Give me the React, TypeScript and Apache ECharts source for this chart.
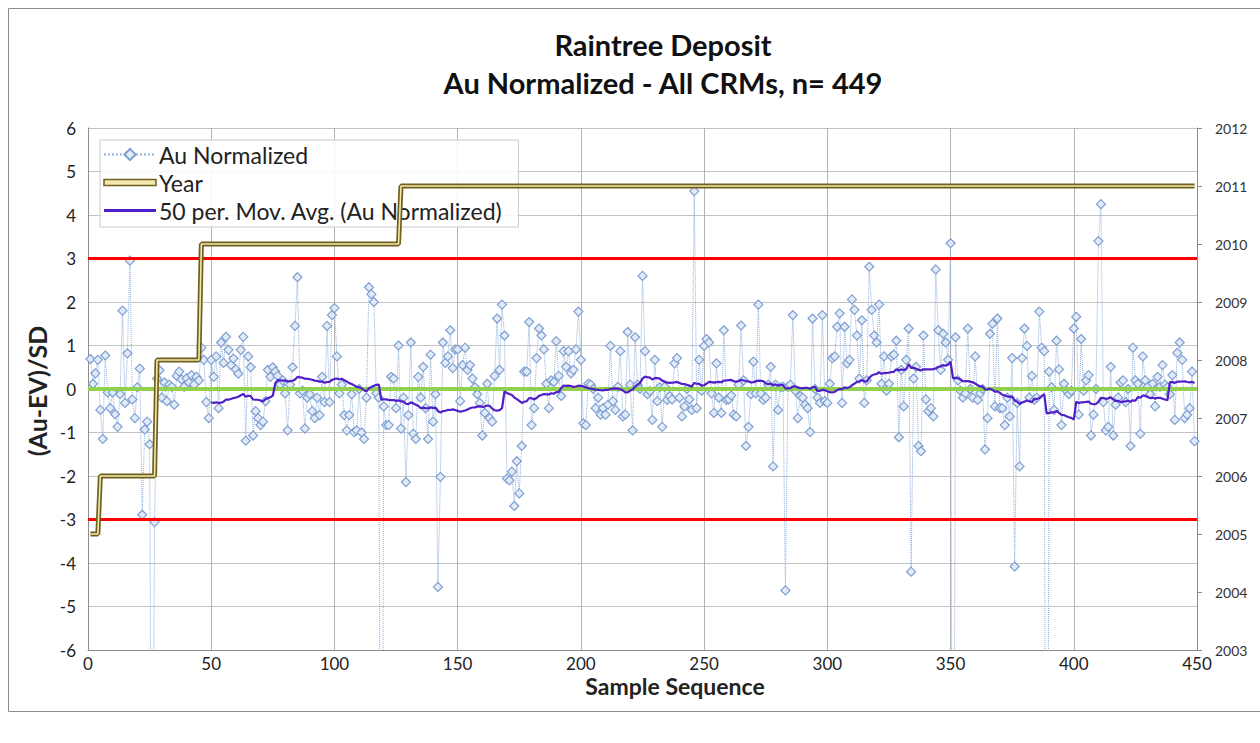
import { useEffect, useRef } from "react";
import * as echarts from "echarts";

// Au Normalized value for each sample, in sequence (samples 1..449)
const auNormalized: number[] = [
  // 1-10
  0.69, 0.12, 0.36, 0.67, -0.48, -1.15, 0.77, -0.08, -0.44, -0.08,
  // 11-20
  -0.58, -0.87, -0.12, 1.8, -0.32, 0.82, 2.95, -0.24, -0.67, 0.04,
  // 21-30
  0.47, -2.89, -0.93, -0.75, -1.27, -14, -3.06, 0.24, 0.43, -0.2,
  // 31-40
  0.15, -0.28, 0.1, 0.05, -0.36, 0.3, 0.4, 0.22, 0.05, 0.25,
  // 41-50
  0.15, 0.32, 0.1, 0.28, 0.2, 0.95, 0.67, -0.3, -0.67, 0.67,
  // 51-60
  0.28, 0.75, -0.44, 1.07, 0.6, 1.2, 0.9, 0.55, 0.7, 0.45,
  // 61-70
  0.35, 0.9, 1.2, -1.19, 0.75, 0.5, -1.07, -0.51, -0.67, -0.83,
  // 71-80
  -0.75, -0.28, 0.44, 0.28, 0.5, 0.4, 0.3, 0.1, 0.2, -0.1,
  // 81-90
  -0.95, 0.1, 0.5, 1.45, 2.57, -0.1, -0.04, -0.91, -0.2, -0.12,
  // 91-100
  -0.51, -0.67, -0.2, -0.6, 0.28, -0.3, 1.45, -0.3, 1.7, 1.86,
  // 101-110
  0.75, -0.1, 0.1, -0.6, -0.95, -0.6, -0.12, -0.99, -0.95, 0.0,
  // 111-120
  -1.0, -1.15, -0.2, 2.34, 2.18, 2.0, -0.1, -0.2, -18, -0.4,
  // 121-130
  -0.83, -0.83, 0.28, 0.24, -0.44, 1.0, -0.91, -0.2, -2.14, -0.6,
  // 131-140
  1.07, -1.03, -1.15, 0.28, -0.2, 0.51, -0.44, -1.15, 0.79, -0.75,
  // 141-150
  -0.12, -4.55, -2.02, 1.07, 0.6, 0.75, 1.35, 0.48, 0.91, 0.91,
  // 151-160
  -0.28, 0.55, 0.95, 0.44, 0.55, 0.24, 0.04, -0.12, -0.32, -1.07,
  // 161-170
  -0.55, 0.12, -0.67, -0.75, 0.3, 1.62, 0.44, 1.94, 1.23, -2.06,
  // 171-180
  -2.1, -1.9, -2.69, -1.66, -2.4, -1.31, 0.4, 0.4, 1.54, -0.83,
  // 181-190
  -0.44, 0.71, 1.39, 1.23, 0.91, 0.12, -0.44, 0.2, 0.16, 1.1,
  // 191-200
  0.3, -0.16, 0.87, 0.51, 0.87, 0.36, 0.44, 0.91, 1.78, 0.67,
  // 201-210
  -0.79, -0.83, 0.12, 0.1, 0.0, -0.44, -0.2, -0.59, -0.44, -0.59,
  // 211-220
  -0.36, 0.99, -0.28, -0.48, 0.05, 0.87, -0.63, -0.59, 1.31, 0.1,
  // 221-230
  -0.95, 1.19, 0.1, 0.0, 2.6, 0.87, -0.12, -0.05, -0.71, 0.67,
  // 231-240
  -0.28, 0.04, -0.87, 0.05, -0.25, -0.16, -0.24, 0.59, 0.71, -0.2,
  // 241-250
  -0.63, -0.4, 0.0, -0.24, -0.48, 4.55, -0.44, 0.67, -0.04, 0.99,
  // 251-260
  1.15, 1.07, -0.1, -0.55, 0.59, -0.2, -0.55, 1.35, -0.25, -0.24,
  // 261-270
  -0.15, -0.59, -0.63, 0.1, 1.46, 0.2, -1.31, -0.87, -0.12, 0.63,
  // 271-280
  -0.1, 1.94, -0.1, -0.25, -0.2, 0.1, 0.51, -1.78, 0.1, -0.48,
  // 281-290
  0.04, 0.05, -4.63, 0.05, 0.1, 1.7, -0.04, -0.67, -0.16, -0.2,
  // 291-300
  -0.36, -0.44, -0.99, 1.62, 0.0, -0.2, -0.32, 1.7, -0.28, -0.32,
  // 301-310
  0.12, 0.71, 0.75, 1.43, 1.74, -0.32, 1.43, 0.59, 0.67, 2.06,
  // 311-320
  1.82, 1.23, 0.24, 1.58, -0.32, 0.2, 2.81, 1.82, 1.23, 1.07,
  // 321-330
  1.94, 0.12, 0.75, -0.04, 0.12, 0.75, 0.79, 1.11, -1.11, 0.44,
  // 331-340
  -0.4, 0.67, 1.39, -4.2, 0.24, 0.51, -1.31, -1.43, 1.23, -0.24,
  // 341-350
  -0.51, -0.44, -0.63, 2.75, 1.35, 0.44, 1.27, 1.07, 0.67, 3.35,
  // 351-360
  -19, 1.19, 0.2, -0.04, -0.2, -0.1, 1.39, 0.0, -0.2, 0.75,
  // 361-370
  -0.25, -0.1, 0.0, -1.39, -0.67, 1.27, 1.5, -0.4, 1.62, -0.44,
  // 371-380
  -0.44, -0.83, -0.2, -0.63, 0.71, -4.08, -0.32, -1.78, 0.71, 1.39,
  // 381-390
  0.99, -0.2, 0.3, -0.25, -0.2, 1.78, 0.95, 0.87, -21, 0.4,
  // 391-400
  0.04, -0.48, 1.11, 0.45, -0.83, 0.12, -0.04, -0.12, -0.04, 1.39,
  // 401-410
  1.66, -0.59, 1.15, -0.04, 0.2, 0.32, -1.07, -0.59, 0.0, 3.4,
  // 411-420
  4.25, -0.3, -0.95, -0.87, 0.51, -1.07, -0.36, -0.2, 0.15, 0.2,
  // 421-430
  -0.3, 0.0, -1.31, 0.95, 0.2, 0.12, -1.03, 0.75, 0.2, 0.05,
  // 431-440
  -0.12, 0.12, -0.4, 0.28, 0.05, 0.55, 0.1, 0.04, -0.12, 0.32,
  // 441-449
  -0.71, 0.83, 1.07, 0.67, -0.67, -0.59, -0.44, 0.4, -1.2,
];

// Year of assay: the year value and the first sample it applies to
const yearValues: number[] = [2005, 2006, 2008, 2010, 2011];
const yearStartSample: number[] = [1, 5, 28, 46, 127];

// Reference lines (in SD units)
const controlLimits: number[] = [3, -3];
const centreLine: number[] = [0];

const movingAveragePeriod = 50;

const titleLines: string[] = ["Raintree Deposit", "Au Normalized - All CRMs, n= 449"];
const xAxisTitle = "Sample Sequence";
const yAxisTitle = "(Au-EV)/SD";

const FONT = "Lato, 'Open Sans', 'DejaVu Sans', sans-serif";

const LINE_ICON = "path://M0,0 H52 V3 H0 Z";
const YEAR_ICON = "path://M0,0 H52 V6 H0 Z";

export default function App() {
  const ref = useRef<HTMLDivElement>(null);

  useEffect(() => {
    if (!ref.current) return;
    const chart = echarts.init(ref.current, undefined, { renderer: "svg" });

    const n = auNormalized.length;
    const auData = auNormalized.map((v, i) => [i + 1, v]);
    const yearData = auNormalized.map((_, i) => {
      let y = yearValues[0];
      for (let k = 0; k < yearValues.length; k++) {
        if (i + 1 >= yearStartSample[k]) y = yearValues[k];
      }
      return [i + 1, y];
    });
    const maData: number[][] = [];
    for (let i = movingAveragePeriod; i <= n; i++) {
      let s = 0;
      for (let j = i - movingAveragePeriod; j < i; j++) s += auNormalized[j];
      maData.push([i, s / movingAveragePeriod]);
    }

    chart.setOption({
      animation: false,
      backgroundColor: "#ffffff",
      title: {
        text: titleLines.join("\n"),
        left: 658,
        top: 20,
        textAlign: "center",
        textStyle: {
          fontFamily: FONT,
          fontSize: 29,
          fontWeight: "bold",
          color: "#111",
          lineHeight: 38,
        },
      },
      graphic: [
        {
          type: "rect",
          shape: { x: 8.5, y: 8.5, width: 1300, height: 703 },
          style: { fill: "none", stroke: "#8c8c8c", lineWidth: 1 },
          silent: true,
          z: -1,
        },
        {
          type: "text",
          x: 675,
          y: 686,
          style: {
            text: xAxisTitle,
            fontFamily: FONT,
            fontSize: 23,
            fontWeight: "bold",
            fill: "#222",
            align: "center",
            verticalAlign: "middle",
          },
        },
        {
          type: "text",
          x: 37,
          y: 391,
          rotation: Math.PI / 2,
          style: {
            text: yAxisTitle,
            fontFamily: FONT,
            fontSize: 25,
            fontWeight: "bold",
            fill: "#222",
            align: "center",
            verticalAlign: "middle",
          },
        },
      ],
      legend: {
        data: [
          { name: "Au Normalized" },
          {
            name: "Year",
            icon: YEAR_ICON,
            itemStyle: { color: "#f3e9b0", borderColor: "#6e5f1c", borderWidth: 1.5 },
          },
          { name: "50 per. Mov. Avg. (Au Normalized)", icon: LINE_ICON },
        ],
        orient: "vertical",
        left: 100,
        top: 140,
        itemWidth: 52,
        itemHeight: 14,
        itemGap: 5,
        padding: [3, 16, 5, 3],
        backgroundColor: "rgba(255,255,255,0.85)",
        borderColor: "#c9c9c9",
        borderWidth: 1,
        textStyle: { fontFamily: FONT, fontSize: 23, color: "#222", padding: [0, 0, 0, -2] },
      },
      grid: { left: 88, top: 128, width: 1109, height: 522, containLabel: false },
      xAxis: {
        type: "value",
        min: 0,
        max: 450,
        interval: 50,
        axisLine: { show: true, onZero: false, lineStyle: { color: "#8c8c8c" } },
        axisTick: { show: false },
        axisLabel: { fontFamily: FONT, fontSize: 17, color: "#222", margin: 5 },
        splitLine: { show: true, lineStyle: { color: "#b5b5b5", width: 1 } },
      },
      yAxis: [
        {
          type: "value",
          min: -6,
          max: 6,
          interval: 1,
          axisLine: { show: true, lineStyle: { color: "#8c8c8c" } },
          axisTick: { show: false },
          axisLabel: { fontFamily: FONT, fontSize: 17, color: "#222", margin: 12 },
          splitLine: { show: true, lineStyle: { color: "#c4c4c4", width: 1 } },
        },
        {
          type: "value",
          min: 2003,
          max: 2012,
          interval: 1,
          position: "right",
          axisLine: { show: true, lineStyle: { color: "#8c8c8c" } },
          axisTick: { show: true, length: 5, lineStyle: { color: "#8c8c8c" } },
          axisLabel: {
            fontFamily: FONT,
            fontSize: 14,
            color: "#333",
            margin: 18,
            formatter: (v: number) => String(v),
          },
          splitLine: { show: false },
        },
      ],
      series: [
        {
          name: "Au Normalized",
          type: "line",
          yAxisIndex: 0,
          data: auData,
          z: 2,
          symbol: "diamond",
          symbolSize: 9,
          showSymbol: true,
          showAllSymbol: true,
          clip: true,
          lineStyle: { color: "#8fb0dc", width: 1, type: "dotted" },
          itemStyle: { color: "#e2eaf6", borderColor: "#7d9fd3", borderWidth: 1.2 },
          markLine: {
            silent: true,
            z: 3,
            symbol: ["none", "none"],
            label: { show: false },
            data: [
              ...controlLimits.map((v) => ({ yAxis: v, lineStyle: { color: "#ff0000", width: 3, type: "solid" } })),
              ...centreLine.map((v) => ({ yAxis: v, lineStyle: { color: "#92d050", width: 4, type: "solid" } })),
            ],
          },
        },
        {
          name: "Year",
          type: "line",
          yAxisIndex: 1,
          data: yearData,
          z: 4,
          symbol: "none",
          lineStyle: { color: "#6e5f1c", width: 5 },
          itemStyle: { color: "#6e5f1c" },
        },
        {
          name: "Year inner",
          type: "line",
          yAxisIndex: 1,
          data: yearData,
          z: 4,
          symbol: "none",
          lineStyle: { color: "#f3e9b0", width: 1.6 },
          itemStyle: { color: "#f3e9b0" },
        },
        {
          name: "50 per. Mov. Avg. (Au Normalized)",
          type: "line",
          yAxisIndex: 0,
          data: maData,
          z: 6,
          symbol: "none",
          lineStyle: { color: "#4f1fc9", width: 2.2 },
          itemStyle: { color: "#4f1fc9" },
        },
      ],
    });

    return () => chart.dispose();
  }, []);

  return (
    <div
      ref={ref}
      style={{ position: "fixed", left: 0, top: 0, width: 1260, height: 743, background: "#fff" }}
    />
  );
}
